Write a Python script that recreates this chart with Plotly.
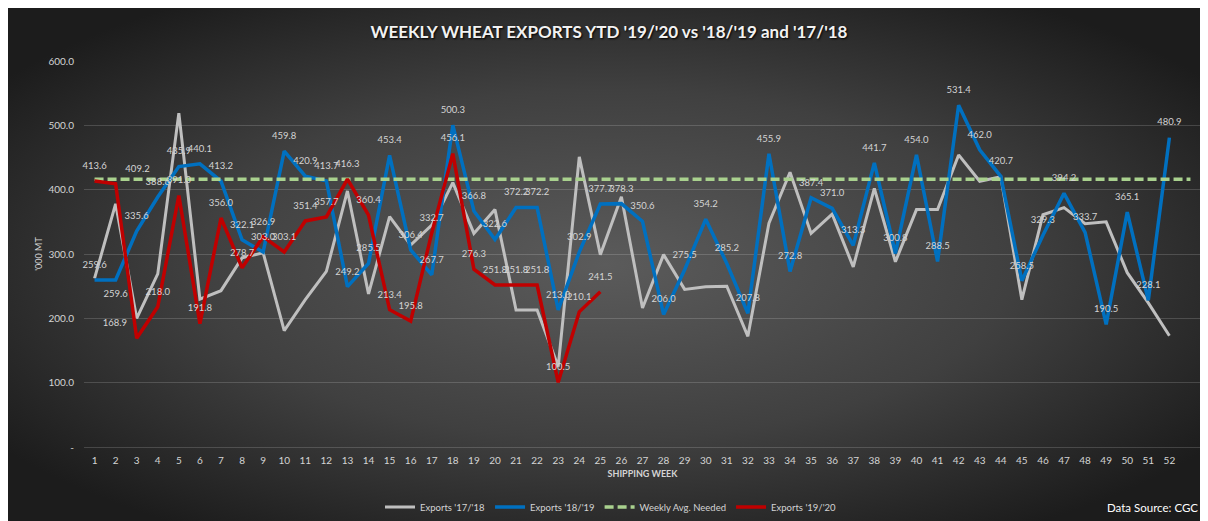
import base64
import plotly.graph_objects as go

# ---------------- data ----------------
weeks = list(range(1, 53))
week_labels = [str(w) for w in weeks]

exports_1718 = [262, 378, 200, 269, 519, 230, 243, 294, 302, 181,
                229, 273, 398, 238, 358, 314, 345, 411, 332, 369,
                213, 213, 125, 451, 299, 389, 216, 299, 245, 249,
                250, 172, 348, 427, 332, 362, 280, 402, 288, 369,
                369, 454, 413, 420, 229, 361, 372, 347, 350, 271,
                224, 173]

exports_1819 = [259.6, 259.6, 335.6, 388.6, 435.9, 440.1, 413.2, 322.1, 303.0, 459.8,
                420.9, 413.7, 249.2, 285.5, 453.4, 306.4, 267.7, 500.3, 366.8, 322.6,
                372.2, 372.2, 213.0, 302.9, 377.7, 378.3, 350.6, 206.0, 275.5, 354.2,
                285.2, 207.8, 455.9, 272.8, 387.4, 371.0, 313.3, 441.7, 300.8, 454.0,
                288.5, 531.4, 462.0, 420.7, 258.5, 329.3, 394.2, 333.7, 190.5, 365.1,
                228.1, 480.9]

exports_1920 = [413.6, 409.2, 168.9, 218.0, 391.0, 191.8, 356.0, 278.7, 326.9, 303.1,
                351.4, 357.7, 416.3, 360.4, 213.4, 195.8, 332.7, 456.1, 276.3, 251.8,
                251.8, 251.8, 100.5, 210.1, 241.5]
weeks_1920 = weeks[:len(exports_1920)]

avg_weeks = [1, 53]
avg_needed = [416.0, 416.0]

y_ticks = [0, 100, 200, 300, 400, 500, 600]
y_tick_text = ["-", "100.0", "200.0", "300.0", "400.0", "500.0", "600.0"]

# ---------------- layout geometry (figure coords; page adds 8px body margin) ----------------
W, H = 1200, 513
L, R, T, B = 76, 7, 53, 74
PW, PH = W - L - R, H - T - B

# background gradient box
bx0, by0, bx1, by1 = 0, 0, 1195, 513
bw, bh = bx1 - bx0, by1 - by0
svg = (f"<svg xmlns='http://www.w3.org/2000/svg' width='{bw}' height='{bh}' "
       f"viewBox='0 0 {bw} {bh}' preserveAspectRatio='none'><defs>"
       "<radialGradient id='g' cx='0.5' cy='0.5' r='0.62'>"
       "<stop offset='0' stop-color='#5b5b5b'/><stop offset='0.55' stop-color='#404040'/>"
       "<stop offset='1' stop-color='#1c1c1c'/></radialGradient></defs>"
       f"<rect width='{bw}' height='{bh}' fill='url(#g)'/></svg>")
bg_src = "data:image/svg+xml;base64," + base64.b64encode(svg.encode()).decode()

label_color = "#D4D4D4"
font_family = "Lato"

pos_1819 = ["top center"] * len(exports_1819)
pos_1819[1] = "bottom center"
pos_1920 = ["top center"] * len(exports_1920)
pos_1920[1] = "top right"
pos_1920[2] = "top left"

fig = go.Figure()

fig.add_trace(go.Scatter(x=weeks, y=exports_1718, mode="lines", name="Exports '17/'18",
                         line=dict(color="#BFBFBF", width=3), hoverinfo="skip"))
fig.add_trace(go.Scatter(x=weeks, y=exports_1819, mode="lines", name="Exports '18/'19",
                         line=dict(color="#0070C0", width=3.5), hoverinfo="skip"))
fig.add_trace(go.Scatter(x=avg_weeks, y=avg_needed, mode="lines", name="Weekly Avg. Needed",
                         line=dict(color="#A9D18E", width=3.5, dash="9px,4px"), hoverinfo="skip"))
fig.add_trace(go.Scatter(x=weeks_1920, y=exports_1920, mode="lines", name="Exports '19/'20",
                         line=dict(color="#C00000", width=3.5), hoverinfo="skip"))

# data labels (drawn on top)
for xs, ys, pos in [(weeks, exports_1819, pos_1819), (weeks_1920, exports_1920, pos_1920)]:
    fig.add_trace(go.Scatter(
        x=xs, y=ys, mode="markers+text", showlegend=False, hoverinfo="skip",
        cliponaxis=False,
        marker=dict(size=14, color="rgba(0,0,0,0)"),
        text=[f"{v:.1f}" for v in ys], textposition=pos,
        textfont=dict(family=font_family, size=9.5, color=label_color)))

fig.update_layout(
    width=W, height=H,
    margin=dict(l=L, r=R, t=T, b=B, autoexpand=False),
    paper_bgcolor="white", plot_bgcolor="rgba(0,0,0,0)",
    font=dict(family=font_family, color=label_color),
    title=dict(text="<b>WEEKLY WHEAT EXPORTS YTD '19/'20 vs '18/'19 and '17/'18</b>",
               x=601 / W, xanchor="center", xref="container",
               y=1 - 24 / H, yanchor="middle", yref="container",
               font=dict(family=font_family, size=17, color="#F2F2F2",
                         shadow="1px 1px 2px #000000")),
    images=[dict(source=bg_src, xref="paper", yref="paper",
                 x=(bx0 - L) / PW, y=(H - B - by0) / PH,
                 sizex=bw / PW, sizey=bh / PH,
                 xanchor="left", yanchor="top", sizing="stretch", layer="below")],
    xaxis=dict(range=[0.5, 53.5], tickmode="array", tickvals=weeks, ticktext=week_labels,
               showgrid=False, zeroline=False, showline=False, ticks="",
               tickfont=dict(size=10, color=label_color), ticklabelstandoff=6,
               title=dict(text="<b>SHIPPING WEEK</b>", standoff=5,
                          font=dict(size=9, color=label_color)),
               automargin=False),
    yaxis=dict(range=[0, 600], tickmode="array", tickvals=y_ticks, ticktext=y_tick_text,
               showgrid=True, gridcolor="rgba(255,255,255,0.16)", gridwidth=1,
               zeroline=True, zerolinecolor="rgba(255,255,255,0.16)", zerolinewidth=1,
               showline=False, ticks="",
               tickfont=dict(size=10, color=label_color), ticklabelstandoff=9,
               title=dict(text="'000 MT", standoff=4, font=dict(size=9, color=label_color)),
               automargin=False),
    legend=dict(orientation="h", x=(603 - L) / PW, xanchor="center",
                y=(H - B - 499) / PH, yanchor="middle",
                bgcolor="rgba(0,0,0,0)", font=dict(size=9.5, color=label_color),
                itemwidth=30, tracegroupgap=0),
    annotations=[dict(text="Data Source: CGC", xref="paper", yref="paper",
                      x=(1144 - L) / PW, y=(H - B - 499) / PH, xanchor="center", yanchor="middle",
                      showarrow=False, font=dict(family=font_family, size=11.5, color="#FFFFFF"))],
    showlegend=True,
)

fig.write_html("out.html")
